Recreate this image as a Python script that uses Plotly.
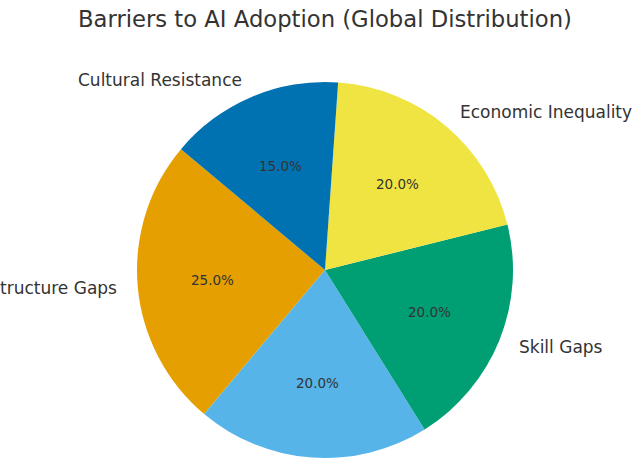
import numpy as np
import plotly.graph_objects as go

labels = ["Infrastructure Gaps", "Regulatory Uncertainty", "Skill Gaps", "Economic Inequality", "Cultural Resistance"]
values = [25, 20, 20, 20, 15]
colors = ["#E69F00", "#56B4E9", "#009E73", "#F0E442", "#0072B2"]
title = "Barriers to AI Adoption (Global Distribution)"

W, H = 634, 460
cx, cy, r = 325, 270, 188
start_angle = 140  # degrees, counterclockwise from 3 o'clock

vals = np.array(values, dtype=float)
frac = vals / vals.sum()

fig = go.Figure()
fig.add_trace(go.Pie(
    labels=labels, values=values, sort=False, direction="counterclockwise",
    rotation=90 - start_angle - frac[0] * 360, textinfo="none", hoverinfo="label+percent",
    marker=dict(colors=colors, line=dict(width=0)),
    domain=dict(x=[(cx - r) / W, (cx + r) / W], y=[(H - cy - r) / H, (H - cy + r) / H]),
    showlegend=False,
))

ends = start_angle + np.cumsum(frac) * 360
mids = np.deg2rad(ends - frac * 360 / 2)

annotations = []
for lab, f, a in zip(labels, frac, mids):
    lx = cx + 1.1 * r * np.cos(a)
    ly = cy - 1.1 * r * np.sin(a)
    annotations.append(dict(
        x=lx / W, y=(H - ly) / H, xref="paper", yref="paper", text=lab, showarrow=False,
        xanchor="left" if np.cos(a) > 0 else "right", yanchor="middle",
        font=dict(family="DejaVu Sans", size=17, color="#333333"),
    ))
    px = cx + 0.6 * r * np.cos(a)
    py = cy - 0.6 * r * np.sin(a)
    annotations.append(dict(
        x=px / W, y=(H - py) / H, xref="paper", yref="paper", text=f"{f*100:.1f}%", showarrow=False,
        xanchor="center", yanchor="middle",
        font=dict(family="DejaVu Sans", size=13.5, color="#333333"),
    ))

annotations.append(dict(
    x=cx / W, y=(H - 19) / H, xref="paper", yref="paper", text=title, showarrow=False,
    xanchor="center", yanchor="middle",
    font=dict(family="DejaVu Sans", size=22.7, color="#333333"),
))

fig.update_layout(
    width=W, height=H, margin=dict(l=0, r=0, t=0, b=0),
    paper_bgcolor="white", plot_bgcolor="white",
    annotations=annotations,
)
fig.write_html("out.html", config={"displayModeBar": False},
               post_script="document.body.style.margin='0';document.body.style.padding='0';")
